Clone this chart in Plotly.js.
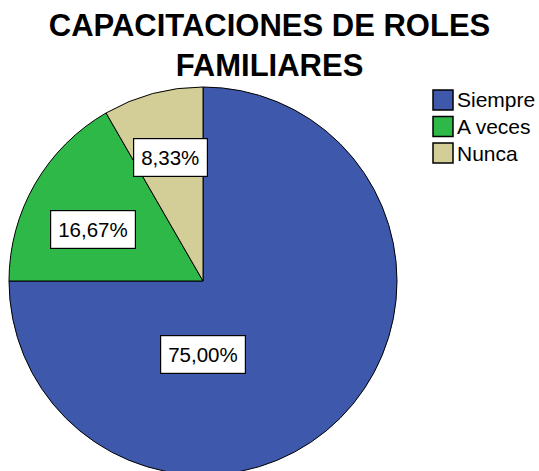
<!DOCTYPE html>
<html>
<head>
<meta charset="utf-8">
<script src="https://cdn.plot.ly/plotly-3.0.1.min.js"></script>
<style>
html, body { margin: 0; padding: 0; overflow: hidden; background: #fff; }
#chart { width: 539px; height: 500px; }
</style>
</head>
<body>
<div id="chart"></div>
<script>
// ---- data ----
const categories = ["Siempre", "A veces", "Nunca"];
const percentages = [75.00, 16.67, 8.33];
const sliceColors = ["#3E58AC", "#2EB848", "#D3CE97"];
const titleText = "CAPACITACIONES DE ROLES<br>FAMILIARES";

// ---- style / placement config ----
const W = 539, H = 500;
const FONT = "Liberation Sans, Arial, Helvetica, sans-serif";
const pieDomX = [9 / W, 397 / W];
const pieDomY = [1 - 475 / H, 1 - 87 / H];
// label placement relative to slice mid-angle (degrees, clockwise) and radius fraction
const labelAngleShift = [45, -5, 0];
const labelRadius = [0.38, 0.625, 0.657];

const cx = (pieDomX[0] + pieDomX[1]) / 2 * W;
const cy = (1 - (pieDomY[0] + pieDomY[1]) / 2) * H;
const R = Math.min((pieDomX[1] - pieDomX[0]) * W, (pieDomY[1] - pieDomY[0]) * H) / 2;

const total = percentages.reduce((a, b) => a + b, 0);
const annotations = [];
let cum = 0;
percentages.forEach((v, i) => {
  const mid = (cum + v / 2) / total * 360 + labelAngleShift[i];
  cum += v;
  const th = mid * Math.PI / 180;
  const px = cx + labelRadius[i] * R * Math.sin(th);
  const py = cy - labelRadius[i] * R * Math.cos(th);
  annotations.push({
    xref: "paper", yref: "paper", x: px / W, y: 1 - py / H,
    xanchor: "center", yanchor: "middle", showarrow: false,
    text: v.toFixed(2).replace(".", ",") + "%",
    font: { family: FONT, size: 20.5, color: "#000" },
    bgcolor: "#ffffff", bordercolor: "#000000", borderwidth: 1.2, borderpad: 7
  });
});

// custom legend built from categories and colours
const legX = 433, legTop = 90, legSw = 20, legPitch = 26.5;
const shapes = [];
categories.forEach((c, i) => {
  const top = legTop + i * legPitch;
  shapes.push({
    type: "rect", xref: "paper", yref: "paper",
    x0: legX / W, x1: (legX + legSw) / W,
    y0: 1 - (top + legSw) / H, y1: 1 - top / H,
    fillcolor: sliceColors[i], line: { color: "#000", width: 1.5 }
  });
  annotations.push({
    xref: "paper", yref: "paper", x: (legX + legSw + 2) / W, y: 1 - (top + legSw / 2) / H,
    xanchor: "left", yanchor: "middle", showarrow: false, text: c,
    font: { family: FONT, size: 21, color: "#000" }
  });
});

const data = [{
  type: "pie",
  labels: categories,
  values: percentages,
  sort: false,
  direction: "clockwise",
  rotation: 0,
  marker: { colors: sliceColors, line: { color: "#000", width: 1 } },
  textinfo: "none",
  hoverinfo: "none",
  showlegend: false,
  domain: { x: pieDomX, y: pieDomY }
}];

const layout = {
  width: W, height: H,
  margin: { l: 0, r: 0, t: 0, b: 0 },
  paper_bgcolor: "#fff",
  showlegend: false,
  title: {
    text: titleText,
    font: { family: FONT, size: 31, color: "#000", weight: "bold" },
    x: 0.5, xanchor: "center",
    y: 1 - 36 / H, yanchor: "middle", yref: "container"
  },
  annotations: annotations,
  shapes: shapes
};

Plotly.newPlot("chart", data, layout, { staticPlot: true, displayModeBar: false });
</script>
</body>
</html>
